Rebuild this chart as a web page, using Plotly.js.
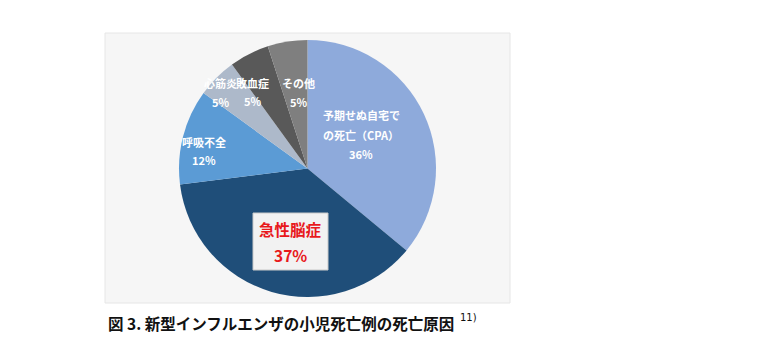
<!DOCTYPE html>
<html>
<head>
<meta charset="utf-8">
<script src="https://cdn.plot.ly/plotly-3.0.1.min.js"></script>
<style>html,body{margin:0;padding:0;background:#fff;}#chart{width:760px;height:345px;}</style>
</head>
<body>
<div id="chart"></div>
<script>
// ---- data ----
var causes = ['予期せぬ自宅での死亡（CPA）', '急性脳症', '呼吸不全', '心筋炎', '敗血症', 'その他'];
var labelLines = [['予期せぬ自宅で', 'の死亡（CPA）'], ['急性脳症'], ['呼吸不全'], ['心筋炎'], ['敗血症'], ['その他']];
var percents = [36, 37, 12, 5, 5, 5];
var sliceColors = ['#8eaadb', '#1f4e79', '#5b9bd5', '#adb9ca', '#595959', '#7f7f7f'];
var captionText = '図 3. 新型インフルエンザの小児死亡例の死亡原因';
var captionRef = '11)';

// ---- layout helpers (pixel -> paper) ----
var W = 760, H = 345;
function px(x) { return x / W; }
function py(y) { return 1 - y / H; }

var cx = 307.5, cy = 168.5, R = 128.5;

// label placement (pixel centers)
var labelPos = [
  {x: 361, names: [115, 135], pct: 154},
  {x: 290.5, names: [229], pct: 255},
  {x: 204, names: [142], pct: 160},
  {x: 220, names: [83], pct: 102},
  {x: 252.5, names: [83], pct: 101},
  {x: 298, names: [83], pct: 102}
];

var FONT = '"Noto Sans CJK JP", "Noto Sans", sans-serif';
var annotations = [];
labelPos.forEach(function (p, i) {
  var highlight = (i === 1);
  var f = highlight ? {family: FONT, size: 15.5, color: '#e8191c', weight: 'bold'}
                    : {family: FONT, size: 11, color: '#ffffff', weight: 'bold'};
  labelLines[i].forEach(function (line, j) {
    annotations.push({xref: 'paper', yref: 'paper', x: px(p.x), y: py(p.names[j]),
      xanchor: 'center', yanchor: 'middle', showarrow: false, text: line, font: f});
  });
  annotations.push({xref: 'paper', yref: 'paper', x: px(p.x), y: py(p.pct),
    xanchor: 'center', yanchor: 'middle', showarrow: false, text: percents[i] + '%', font: f});
});

annotations.push({xref: 'paper', yref: 'paper', x: px(106), y: py(323), xanchor: 'left', yanchor: 'middle',
  showarrow: false, text: captionText, font: {family: FONT, size: 15.5, color: '#111111', weight: 'bold'}});
annotations.push({xref: 'paper', yref: 'paper', x: px(458), y: py(317), xanchor: 'left', yanchor: 'middle',
  showarrow: false, text: captionRef, font: {family: '"DejaVu Sans", sans-serif', size: 10, color: '#111111'}});

var trace = {
  type: 'pie',
  labels: causes,
  values: percents,
  sort: false,
  direction: 'clockwise',
  rotation: 0,
  textinfo: 'none',
  hoverinfo: 'none',
  marker: {colors: sliceColors, line: {width: 0}},
  domain: {x: [px(cx - R), px(cx + R)], y: [py(cy + R), py(cy - R)]}
};

var layout = {
  width: W, height: H,
  margin: {l: 0, r: 0, t: 0, b: 0},
  paper_bgcolor: '#ffffff',
  showlegend: false,
  hovermode: false,
  shapes: [
    {type: 'rect', xref: 'paper', yref: 'paper', layer: 'below',
     x0: px(105), x1: px(510), y0: py(303), y1: py(33),
     fillcolor: '#f6f6f6', line: {color: '#e6e6e6', width: 1}},
    {type: 'rect', xref: 'paper', yref: 'paper', layer: 'above',
     x0: px(253), x1: px(328), y0: py(270), y1: py(213),
     fillcolor: '#f2f2f2', line: {color: '#c9c9c9', width: 1}}
  ],
  annotations: annotations
};

Plotly.newPlot('chart', [trace], layout, {displayModeBar: false, staticPlot: true});
</script>
</body>
</html>
